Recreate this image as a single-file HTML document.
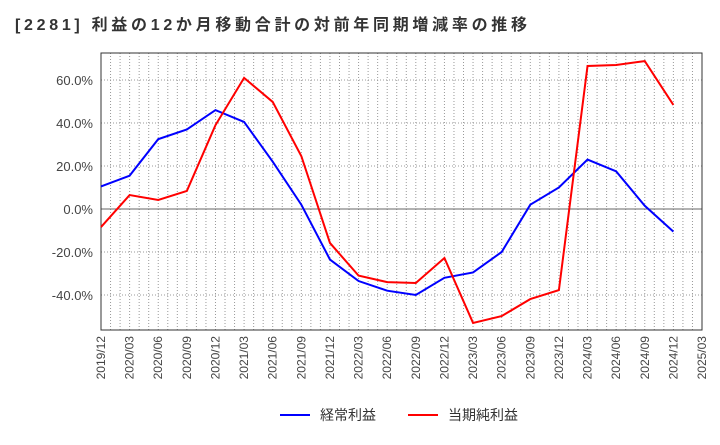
<!DOCTYPE html>
<html><head><meta charset="utf-8"><style>
body{margin:0;background:#fff;font-family:"Liberation Sans","Noto Sans CJK JP",sans-serif}
</style></head><body>
<svg width="720" height="440" xmlns="http://www.w3.org/2000/svg">
<text x="15" y="30" font-size="16" font-weight="bold" fill="#333" textLength="512" lengthAdjust="spacing" font-family="Liberation Sans, Noto Sans CJK JP, sans-serif">[2281]  利益の12か月移動合計の対前年同期増減率の推移</text>
<g id="grid"></g><g id="axes"></g><g id="series"></g>
<g>
<line x1="280" y1="415" x2="310" y2="415" stroke="#00f" stroke-width="2"/>
<text x="320" y="420" font-size="14" fill="#333">経常利益</text>
<line x1="408" y1="415" x2="438" y2="415" stroke="#f00" stroke-width="2"/>
<text x="448" y="420" font-size="14" fill="#333">当期純利益</text>
</g>
</svg>
<script>
const xLabels=["2019/12","2020/03","2020/06","2020/09","2020/12","2021/03","2021/06","2021/09","2021/12","2022/03","2022/06","2022/09","2022/12","2023/03","2023/06","2023/09","2023/12","2024/03","2024/06","2024/09","2024/12","2025/03"];
const yTicks=[-40,-20,0,20,40,60];
const keijo=[10.5,15.5,32.5,37,46,40.5,22,2,-23.5,-33.5,-38,-40,-32,-29.5,-20,2,10,23,17.5,1.5,-10.5];
const junri=[-8.4,6.5,4.2,8.4,39,61,49.8,24.6,-15.8,-31,-34,-34.4,-22.8,-53,-49.8,-41.9,-37.7,66.5,67,68.8,48.4];
const L=101,R=702,T=53,B=330,NS="http://www.w3.org/2000/svg";
const xs=i=>L+i*(R-L)/(xLabels.length-1);
const ys=v=>209-v*2.15;
function mk(p,t,a){const e=document.createElementNS(NS,t);for(const k in a)e.setAttribute(k,a[k]);p.appendChild(e);return e;}
const g=document.getElementById('grid'),ax=document.getElementById('axes'),s=document.getElementById('series');
for(let m=1;m<(xLabels.length-1)*3;m++){const x=L+m*(R-L)/((xLabels.length-1)*3);
const l=mk(g,'line',{x1:x,x2:x,y1:T,y2:B,stroke:'#999','stroke-dasharray':'1,2','stroke-width':1});

}
yTicks.forEach(v=>{const y=ys(v);
const l=mk(g,'line',{x1:L,x2:R,y1:y,y2:y,stroke:v===0?'#666':'#999','stroke-dasharray':v===0?'':'1,2'});


const t=mk(ax,'text',{x:L-8,y:y+5,'text-anchor':'end','font-size':13,fill:'#444'});t.textContent=v.toFixed(1)+'%';

});
const fr=mk(ax,'rect',{x:L,y:T,width:R-L,height:B-T,fill:'none',stroke:'#333'});


xLabels.forEach((lb,i)=>{const x=xs(i);const t=mk(ax,'text',{x:x+4,y:B+6,'text-anchor':'end','font-size':12,fill:'#444',transform:`rotate(-90 ${x+4} ${B+6})`});t.textContent=lb;

});
function line(d,c,n){const p=mk(s,'polyline',{points:d.map((v,i)=>xs(i)+','+ys(v)).join(' '),fill:'none',stroke:c,'stroke-width':2});

}
line(keijo,'#00f','series-keijo-line');
line(junri,'#f00','series-junri-line');
</script>
</body></html>
